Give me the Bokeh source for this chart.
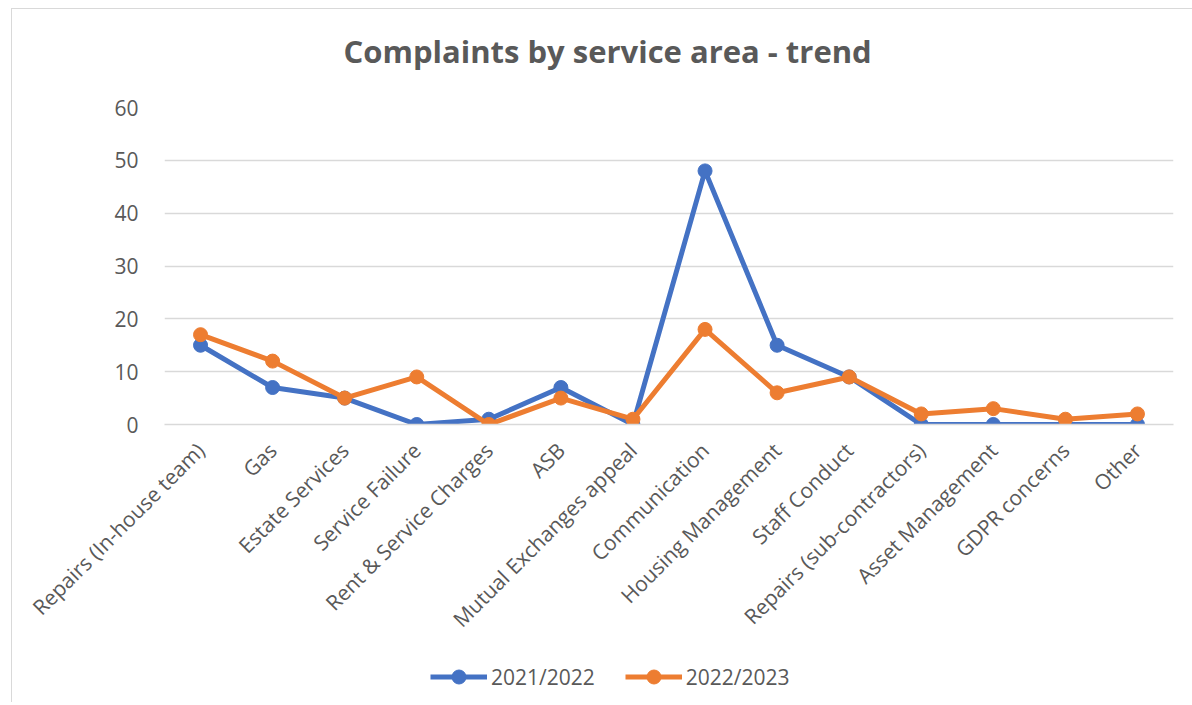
from bokeh.plotting import figure
from bokeh.layouts import column
from bokeh.models import Range1d, Legend, LegendItem, FixedTicker
from bokeh.embed import file_html
from bokeh.resources import INLINE
import math

categories = ["Repairs (In-house team)", "Gas", "Estate Services", "Service Failure",
              "Rent & Service Charges", "ASB", "Mutual Exchanges appeal", "Communication",
              "Housing Management", "Staff Conduct", "Repairs (sub-contractors)",
              "Asset Management", "GDPR concerns", "Other"]
s2021 = [15, 7, 5, 0, 1, 7, 0, 48, 15, 9, 0, 0, 0, 0]
s2022 = [17, 12, 5, 9, 0, 5, 1, 18, 6, 9, 2, 3, 1, 2]
series_names = ["2021/2022", "2022/2023"]
y_ticks = [0, 10, 20, 30, 40, 50, 60]
title_text = "Complaints by service area - trend"

BLUE = "#4472C4"
ORANGE = "#ED7D31"
TXT = "#595959"
GRID = "#D9D9D9"
FONT = "Open Sans"

# title strip
pt = figure(width=1180, height=86, output_backend="svg", toolbar_location=None, min_border=0)
pt.axis.visible = False
pt.grid.visible = False
pt.outline_line_color = None
pt.title.text = title_text
pt.title.text_font = FONT
pt.title.text_font_size = "31px"
pt.title.text_font_style = "bold"
pt.title.text_color = TXT
pt.title.align = "left"
pt.title.offset = 179
pt.title.vertical_align = "top"
pt.title.standoff = 41

# main chart
p = figure(x_range=categories, y_range=Range1d(0, 60), width=1180, height=555,
           output_backend="svg", toolbar_location=None,
           min_border_left=152, min_border_right=19, min_border_top=12, min_border_bottom=226)

p.outline_line_color = None
p.xgrid.grid_line_color = None
p.ygrid.grid_line_color = GRID
p.ygrid.grid_line_width = 1.5
p.yaxis.ticker = FixedTicker(ticks=y_ticks)

p.yaxis.axis_line_color = None
p.yaxis.major_tick_line_color = None
p.yaxis.minor_tick_line_color = None
p.yaxis.major_label_standoff = 20
p.yaxis.major_label_text_font = FONT
p.yaxis.major_label_text_font_size = "21px"
p.yaxis.major_label_text_color = TXT

p.xaxis.axis_line_color = GRID
p.xaxis.axis_line_width = 1.5
p.xaxis.major_tick_line_color = None
p.xaxis.minor_tick_line_color = None
p.xaxis.major_label_orientation = math.pi / 4
p.xaxis.major_label_standoff = 16
p.xaxis.major_label_text_font = FONT
p.xaxis.major_label_text_font_size = "21px"
p.xaxis.major_label_text_color = TXT

p.line(categories, s2021, line_color=BLUE, line_width=5)
p.scatter(categories, s2021, size=14, fill_color=BLUE, line_color=BLUE)
p.line(categories, s2022, line_color=ORANGE, line_width=5)
p.scatter(categories, s2022, size=14, fill_color=ORANGE, line_color=ORANGE)

# legend strip below the chart
p2 = figure(x_range=categories, y_range=Range1d(0, 60), width=1180, height=52,
            output_backend="svg", toolbar_location=None,
            min_border=0)
p2.axis.visible = False
p2.grid.visible = False
p2.outline_line_color = None
l1 = p2.line(categories, s2021, line_color=BLUE, line_width=5, visible=False)
m1 = p2.scatter(categories, s2021, size=14, fill_color=BLUE, line_color=BLUE, visible=False)
l2 = p2.line(categories, s2022, line_color=ORANGE, line_width=5, visible=False)
m2 = p2.scatter(categories, s2022, size=14, fill_color=ORANGE, line_color=ORANGE, visible=False)

legend = Legend(items=[LegendItem(label=series_names[0], renderers=[l1, m1]),
                       LegendItem(label=series_names[1], renderers=[l2, m2])],
                orientation="horizontal", location=(266, 8),
                border_line_color=None, background_fill_alpha=0,
                padding=0, margin=0, spacing=30, label_standoff=4,
                glyph_width=57, glyph_height=35, click_policy="none",
                label_text_font=FONT, label_text_font_size="21px", label_text_color=TXT)
p2.add_layout(legend, "center")

layout = column(pt, p, p2, spacing=0,
                styles={"margin-left": "11px", "margin-top": "8px",
                        "border-left": "1px solid #D9D9D9", "border-top": "1px solid #D9D9D9"})

open("out.html", "w").write(file_html(layout, INLINE))
